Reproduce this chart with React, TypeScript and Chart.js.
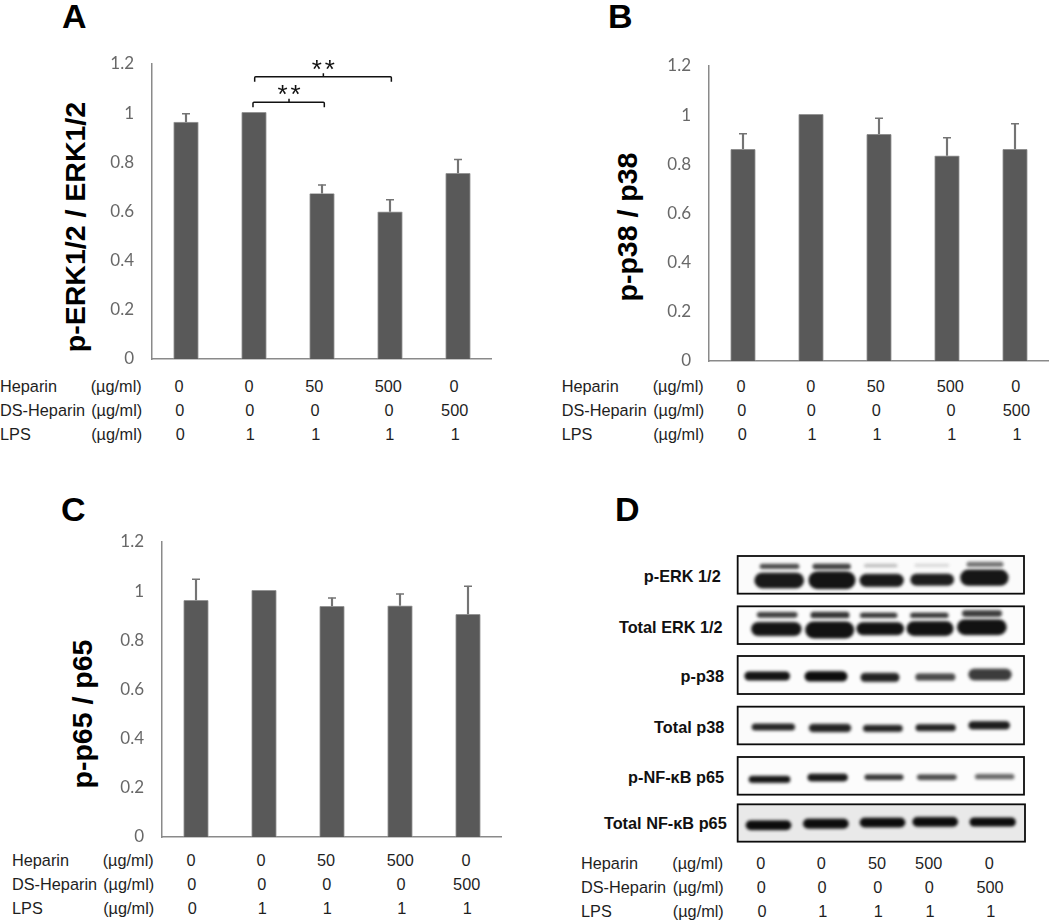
import React, { useEffect, useRef } from "react";
import { Chart, registerables } from "chart.js";

Chart.register(...registerables);

// ---------- data ----------
const CONDITIONS = ["Control", "LPS", "LPS + Heparin 50", "LPS + Heparin 500", "LPS + DS-Heparin 500"];
const HEPARIN = ["0", "0", "50", "500", "0"];
const DS_HEPARIN = ["0", "0", "0", "0", "500"];
const LPS = ["0", "1", "1", "1", "1"];
const Y_TICKS_MAX = 1.2;

const ERK_VALUES = [0.965, 1.005, 0.674, 0.6, 0.757];
const ERK_ERROR_TOPS = [0.998, null, 0.708, 0.648, 0.812];
const P38_VALUES = [0.862, 1.005, 0.923, 0.836, 0.862];
const P38_ERROR_TOPS = [0.924, null, 0.987, 0.908, 0.965];
const P65_VALUES = [0.964, 1.005, 0.94, 0.942, 0.907];
const P65_ERROR_TOPS = [1.048, null, 0.972, 0.988, 1.02];

// significance brackets: category index from/to, value level
const SIG_FROM = [0.985, 1.01];
const SIG_TO = [2.034, 3.02];
const SIG_LEVEL = [1.044, 1.148];
const SIG_CENTER = [1.515, 2.02];

// blot bands: lane centre, row centre, width, height, grey (scale units of the blot chart)
const pErkUpper = [[149, 64, 122, 18, 70], [306, 65, 118, 20, 65], [453, 63, 103, 13, 185], [606, 62, 107, 13, 215], [765, 58, 114, 18, 110]];
const pErkMain = [[148, 107, 152, 50, 25], [306, 106, 144, 56, 20], [456, 106, 136, 42, 25], [607, 104, 134, 39, 30], [764, 99, 148, 52, 22]];
const totalErkUpper = [[142, 210, 125, 20, 60], [300, 211, 120, 22, 50], [447, 212, 115, 19, 55], [599, 212, 118, 19, 55], [756, 206, 123, 23, 60]];
const totalErkMain = [[140, 252, 154, 45, 20], [299, 255, 150, 54, 18], [451, 251, 146, 42, 18], [600, 251, 144, 47, 18], [756, 247, 152, 50, 18]];
const pP38 = [[112, 393, 140, 30, 20], [288, 395, 132, 34, 12], [450, 397, 120, 30, 35], [616, 397, 123, 25, 75], [781, 389, 133, 38, 60]];
const totalP38 = [[131, 546, 133, 24, 40], [301, 550, 130, 28, 35], [459, 550, 122, 24, 35], [618, 548, 124, 24, 35], [778, 542, 128, 28, 28]];
const pP65 = [[119, 703, 128, 24, 20], [294, 698, 124, 26, 25], [462, 697, 120, 20, 55], [621, 697, 122, 20, 75], [795, 696, 121, 19, 100]];
const totalP65 = [[116, 841, 140, 32, 12], [288, 836, 140, 33, 12], [458, 833, 140, 32, 12], [616, 831, 140, 32, 12], [789, 831, 142, 30, 12]];
const ALL_BANDS = [pErkUpper, pErkMain, totalErkUpper, totalErkMain, pP38, totalP38, pP65, totalP65];

const BLOT_NAMES = ["p-ERK 1/2", "Total ERK 1/2", "p-p38", "Total p38", "p-NF-κB p65", "Total NF-κB p65"];
const BLOT_FRAME_TOP = [33, 184, 333, 485, 636, 778];
const BLOT_FRAME_BOTTOM = [146, 297, 447, 598, 749, 890];
const BLOT_FRAME_FILL = ["#fbfbfb", "#fcfcfc", "#fcfcfc", "#fbfbfb", "#fcfcfc", "#e9e9e9"];

// ---------- layout ----------
const ARIAL = '"Liberation Sans", Arial, sans-serif';
const GREY_BAR = "#595959";
const AXIS = "#8a8a8a";
const ERR = "#747474";
const LEFT_GUTTER = 60;
const TOP_GUTTER = 20;
const BOTTOM_GUTTER = 12;

const sigPlugin = {
  id: "sig",
  afterDatasetsDraw(chart: any) {
    const { ctx, scales } = chart;
    ctx.save();
    ctx.strokeStyle = "#111";
    ctx.fillStyle = "#111";
    ctx.lineWidth = 1.5;
    SIG_LEVEL.forEach((lvl, i) => {
      const x0 = scales.x.getPixelForValue(SIG_FROM[i]);
      const x1 = scales.x.getPixelForValue(SIG_TO[i]);
      const xc = scales.x.getPixelForValue(SIG_CENTER[i]);
      const y = scales.y.getPixelForValue(lvl);
      ctx.beginPath();
      ctx.moveTo(x0, y + 5);
      ctx.lineTo(x0, y + 1);
      ctx.quadraticCurveTo(x0, y, x0 + 1, y);
      ctx.lineTo(x1 - 1, y);
      ctx.quadraticCurveTo(x1, y, x1, y + 1);
      ctx.lineTo(x1, y + 5);
      ctx.moveTo(xc, y);
      ctx.lineTo(xc, y - 3.5);
      ctx.stroke();
      ctx.font = `26px ${ARIAL}`;
      ctx.textAlign = "center";
      ctx.textBaseline = "alphabetic";
      (ctx as any).letterSpacing = "3px";
      ctx.fillText("**", xc + 1.5, y + 1);
    });
    ctx.restore();
  },
};

function BarPanel({ left, top, values, errors, withSig }: any) {
  const ref = useRef<HTMLCanvasElement | null>(null);
  useEffect(() => {
    const chart = new Chart(ref.current as HTMLCanvasElement, {
      data: {
        labels: CONDITIONS,
        datasets: [
          {
            type: "bar",
            data: values,
            backgroundColor: GREY_BAR,
            borderColor: "#8f8f8f",
            borderWidth: 0.8,
            borderRadius: 1,
            barPercentage: 0.372,
            categoryPercentage: 1,
            grouped: false,
            order: 1,
          },
          {
            type: "bar",
            data: errors.map((t: number | null, i: number) => (t === null ? null : [values[i], t])),
            backgroundColor: ERR,
            barThickness: 1.5,
            grouped: false,
            order: 2,
          },
          {
            type: "line",
            data: errors,
            showLine: false,
            pointStyle: "line",
            pointRadius: 4,
            pointBorderWidth: 1.5,
            pointBorderColor: ERR,
            order: 3,
          },
        ],
      } as any,
      options: {
        animation: false,
        responsive: false,
        events: [],
        layout: { autoPadding: false, padding: { top: TOP_GUTTER, bottom: BOTTOM_GUTTER, left: 0, right: 0 } },
        plugins: { legend: { display: false }, tooltip: { enabled: false }, title: { display: false } },
        scales: {
          x: {
            grid: { display: false, drawTicks: false },
            ticks: { display: false },
            border: { display: true, color: AXIS, width: 1.5 },
          },
          y: {
            min: 0,
            max: Y_TICKS_MAX,
            grid: { display: false, drawTicks: false },
            border: { display: true, color: AXIS, width: 1.5 },
            afterFit(scale: any) {
              scale.width = LEFT_GUTTER;
              scale.paddingTop = 0;
              scale.paddingBottom = 0;
            },
            ticks: {
              stepSize: 0.2,
              padding: 18,
              color: "#686868",
              font: { family: "Lato", size: 17 },
              callback: (v: any) => String(Number(Number(v).toFixed(1))),
            },
          },
        },
      } as any,
      plugins: withSig ? [sigPlugin] : [],
    });
    return () => chart.destroy();
  }, []);
  return (
    <canvas
      ref={ref}
      width={LEFT_GUTTER + 340}
      height={TOP_GUTTER + 295 + BOTTOM_GUTTER}
      style={{ position: "absolute", left: left - LEFT_GUTTER, top: top - TOP_GUTTER }}
    />
  );
}

function makeBand(w: number, h: number, grey: number) {
  const pad = 6;
  const c = document.createElement("canvas");
  const W = w / 3;
  const H = h / 3;
  c.width = Math.ceil(W + pad * 2);
  c.height = Math.ceil(H + pad * 2);
  const ctx = c.getContext("2d") as CanvasRenderingContext2D;
  ctx.filter = "blur(1.6px)";
  ctx.fillStyle = `rgb(${grey},${grey},${grey})`;
  ctx.beginPath();
  (ctx as any).roundRect(pad + 0.5, pad + 0.5, W - 1, H - 1, Math.min(H / 2, W / 2));
  ctx.fill();
  return c;
}

const framePlugin = {
  id: "frames",
  beforeDatasetsDraw(chart: any) {
    const { ctx, scales } = chart;
    ctx.save();
    BLOT_FRAME_TOP.forEach((t, i) => {
      const x0 = scales.x.getPixelForValue(23);
      const x1 = scales.x.getPixelForValue(i >= 5 ? 885 : 882);
      const y0 = scales.y.getPixelForValue(t);
      const y1 = scales.y.getPixelForValue(BLOT_FRAME_BOTTOM[i]);
      ctx.fillStyle = BLOT_FRAME_FILL[i];
      ctx.fillRect(x0, y0, x1 - x0, y1 - y0);
    });
    ctx.restore();
  },
  afterDatasetsDraw(chart: any) {
    const { ctx, scales } = chart;
    ctx.save();
    ctx.strokeStyle = "#0c0c0c";
    ctx.lineWidth = 1.8;
    BLOT_FRAME_TOP.forEach((t, i) => {
      const x0 = scales.x.getPixelForValue(23);
      const x1 = scales.x.getPixelForValue(i >= 5 ? 885 : 882);
      const y0 = scales.y.getPixelForValue(t);
      const y1 = scales.y.getPixelForValue(BLOT_FRAME_BOTTOM[i]);
      ctx.strokeRect(x0, y0, x1 - x0, y1 - y0);
    });
    ctx.restore();
  },
};

function BlotPanel() {
  const ref = useRef<HTMLCanvasElement | null>(null);
  useEffect(() => {
    const chart = new Chart(ref.current as HTMLCanvasElement, {
      type: "scatter",
      data: {
        datasets: ALL_BANDS.map((row) => ({
          data: row.map((b) => ({ x: b[0], y: b[1] })),
          pointStyle: row.map((b) => makeBand(b[2], b[3], b[4])),
          pointRadius: 10,
          pointBorderWidth: 0,
          clip: false,
        })),
      } as any,
      options: {
        animation: false,
        responsive: false,
        events: [],
        layout: { autoPadding: false, padding: 0 },
        plugins: { legend: { display: false }, tooltip: { enabled: false } },
        scales: {
          x: { type: "linear", display: false, min: 0, max: 900 },
          y: { type: "linear", display: false, min: 0, max: 900, reverse: true },
        },
      } as any,
      plugins: [framePlugin],
    });
    return () => chart.destroy();
  }, []);
  return <canvas ref={ref} width={300} height={300} style={{ position: "absolute", left: 730, top: 545 }} />;
}

const abs = (x: number, y: number, extra: any = {}) => ({
  position: "absolute" as const,
  left: x,
  top: y,
  whiteSpace: "nowrap" as const,
  lineHeight: 1,
  ...extra,
});

function Dose({ labelX, unitX, rowY, cols }: { labelX: number; unitX: number; rowY: number[]; cols: number[] }) {
  const names = ["Heparin", "DS-Heparin", "LPS"];
  const rows = [HEPARIN, DS_HEPARIN, LPS];
  const font = { fontFamily: ARIAL, fontSize: 16.3, color: "#1e1e1e" };
  return (
    <>
      {names.map((n, r) => (
        <React.Fragment key={n}>
          <span style={abs(labelX, rowY[r], { ...font, transform: "translateY(-50%)" })}>{n}</span>
          <span style={abs(unitX + Math.min(r, 1) * 0.5, rowY[r], { ...font, transform: "translateY(-50%)" })}>(µg/ml)</span>
          {rows[r].map((v, c) => (
            <span key={c} style={abs(cols[c] + r * 0.7, rowY[r], { ...font, transform: "translate(-50%,-50%)" })}>
              {v}
            </span>
          ))}
        </React.Fragment>
      ))}
    </>
  );
}

function PanelLetter({ x, y, t }: { x: number; y: number; t: string }) {
  return <span style={abs(x, y, { fontFamily: ARIAL, fontWeight: 700, fontSize: 34, color: "#000" })}>{t}</span>;
}

function YTitle({ x, y, t }: { x: number; y: number; t: string }) {
  return (
    <span
      style={abs(x, y, {
        fontFamily: ARIAL,
        fontWeight: 700,
        fontSize: 28.5,
        color: "#000",
        transform: "translate(-50%,-50%) rotate(-90deg)",
      })}
    >
      {t}
    </span>
  );
}

const BLOT_NAME_RIGHT = [720.7, 722.7, 724, 724.3, 724, 726.7];
const BLOT_NAME_Y = [575.7, 627.3, 676, 726.7, 777.3, 823.3];

export default function App() {
  return (
    <div style={{ position: "absolute", left: 0, top: 0, width: 1050, height: 921, overflow: "hidden", background: "#fff" }}>
      <BarPanel left={152} top={64} values={ERK_VALUES} errors={ERK_ERROR_TOPS} withSig />
      <BarPanel left={709} top={66} values={P38_VALUES} errors={P38_ERROR_TOPS} />
      <BarPanel left={162} top={542} values={P65_VALUES} errors={P65_ERROR_TOPS} />
      <BlotPanel />

      <PanelLetter x={62} y={-1} t="A" />
      <PanelLetter x={608} y={-1} t="B" />
      <PanelLetter x={61} y={492} t="C" />
      <PanelLetter x={615} y={492} t="D" />

      <YTitle x={75} y={226.5} t="p-ERK1/2 / ERK1/2" />
      <YTitle x={627} y={226.5} t="p-p38 / p38" />
      <YTitle x={82} y={714} t="p-p65 / p65" />

      <Dose labelX={0} unitX={90.7} rowY={[385.7, 409.7, 433.7]} cols={[179, 249, 314.3, 388.3, 454]} />
      <Dose labelX={561.7} unitX={652.7} rowY={[385.7, 409.7, 433.7]} cols={[741, 810.7, 875.7, 950.3, 1015.7]} />
      <Dose labelX={12} unitX={102.7} rowY={[860, 884, 908]} cols={[191, 261, 326, 400.3, 466]} />
      <Dose labelX={581} unitX={672.3} rowY={[863.3, 887.3, 911]} cols={[760.7, 821.3, 877, 928.7, 989.3]} />

      {BLOT_NAMES.map((n, i) => (
        <span
          key={n}
          style={abs(BLOT_NAME_RIGHT[i], BLOT_NAME_Y[i], {
            fontFamily: ARIAL,
            fontWeight: 700,
            fontSize: 16.3,
            color: "#111",
            transform: "translate(-100%,-50%)",
          })}
        >
          {n}
        </span>
      ))}
    </div>
  );
}
